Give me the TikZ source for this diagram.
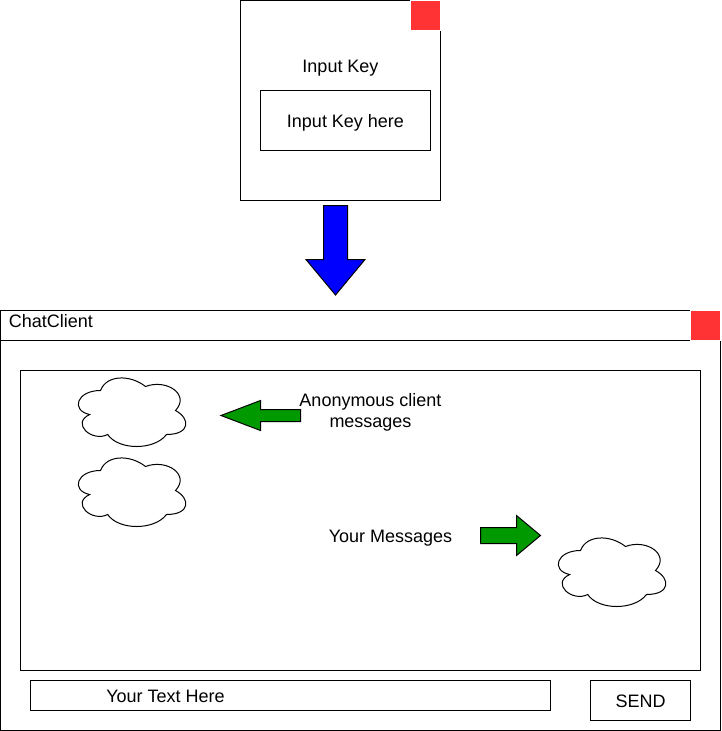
\documentclass[tikz,border=0pt]{standalone}
\usepackage{fontspec}
\setmainfont{Liberation Sans}
\definecolor{redbox}{RGB}{255,51,51}
\definecolor{greenarrow}{RGB}{0,153,0}
\tikzset{
    box/.style={draw=black,line width=0.02cm,fill=white,inner sep=0pt,outer sep=0pt,anchor=north west},
    closebox/.style={draw=white,line width=0.02cm,fill=redbox,inner sep=0pt,outer sep=0pt,minimum width=0.6cm,minimum height=0.6cm,anchor=north west},
    textlabel/.style={inner sep=0pt,align=center,font=\fontsize{10.24pt}{12pt}\selectfont},
    cloudline/.style={draw=black,line width=0.02cm,fill=white},
    arrowline/.style={draw=black,line width=0.02cm}
}
% one cloud, 120 wide and 80 high, from its top left corner
\newcommand{\chatcloud}[2]{
\draw[cloudline,shift={(#1,#2)}] (30,20) .. controls (6,20) and (0,40) .. (19.2,44) .. controls (0,52.8) and (21.6,72) .. (37.2,64) .. controls (48,80) and (84,80) .. (96,64) .. controls (120,64) and (120,48) .. (105,40) .. controls (120,24) and (96,8) .. (75,16) .. controls (60,4) and (36,4) .. (30,20) -- cycle;
}
\begin{document}
\begin{tikzpicture}[x=0.02cm,y=-0.02cm]
\useasboundingbox (0,0) rectangle (721,731);

% key window
\node[box,minimum width=4cm,minimum height=4cm] (keywindow) at (240.5,0.5) {};
\node[closebox] (keyclose) at (410.5,0.5) {};
\node[textlabel] (keytitle) at (340.5,68) {Input Key};
\node[box,minimum width=3.4cm,minimum height=1.2cm] (keyinput) at (260.5,90.5) {};
\node[textlabel] (keytext) at (345.5,123) {Input Key here};

\draw[arrowline,fill=blue] (323.5,205.5) -- (347.5,205.5) -- (347.5,259.5) -- (365,259.5) -- (335.5,295) -- (306,259.5) -- (323.5,259.5) -- cycle;

% chat window
\node[box,minimum width=14.4cm,minimum height=8.4cm] (chatwindow) at (0.5,310.5) {};
\node[box,minimum width=14.4cm,minimum height=0.6cm] (titlebar) at (0.5,310.5) {};
\node[closebox] (chatclose) at (690.5,310.5) {};
\node[textlabel,anchor=west] (titletext) at (8.5,321) {ChatClient};
\node[box,minimum width=13.6cm,minimum height=6cm] (messagearea) at (20.5,370.5) {};

\chatcloud{70.5}{370.5}
\chatcloud{70.5}{450.5}
\chatcloud{550.5}{530.5}

\draw[arrowline,fill=greenarrow] (300.5,409.5) -- (260.5,409.5) -- (260.5,400.5) -- (221,415.5) -- (260.5,430.5) -- (260.5,421.5) -- (300.5,421.5) -- cycle;
\node[textlabel] (othertext) at (370.5,412.5) {Anonymous client\\messages};

\node[textlabel] (yourtext) at (390.5,538) {Your Messages};
\draw[arrowline,fill=greenarrow] (480.5,527.5) -- (516.5,527.5) -- (516.5,515.5) -- (540.5,535.5) -- (516.5,555.5) -- (516.5,543.5) -- (480.5,543.5) -- cycle;

% input row
\node[box,minimum width=10.4cm,minimum height=0.6cm] (textfield) at (30.5,680.5) {};
\node[textlabel] (fieldtext) at (165.5,696) {Your Text Here};
\node[box,minimum width=2cm,minimum height=0.8cm] (sendbutton) at (590.5,680.5) {};
\node[textlabel] (sendtext) at (640.5,701) {SEND};
\end{tikzpicture}
\end{document}
